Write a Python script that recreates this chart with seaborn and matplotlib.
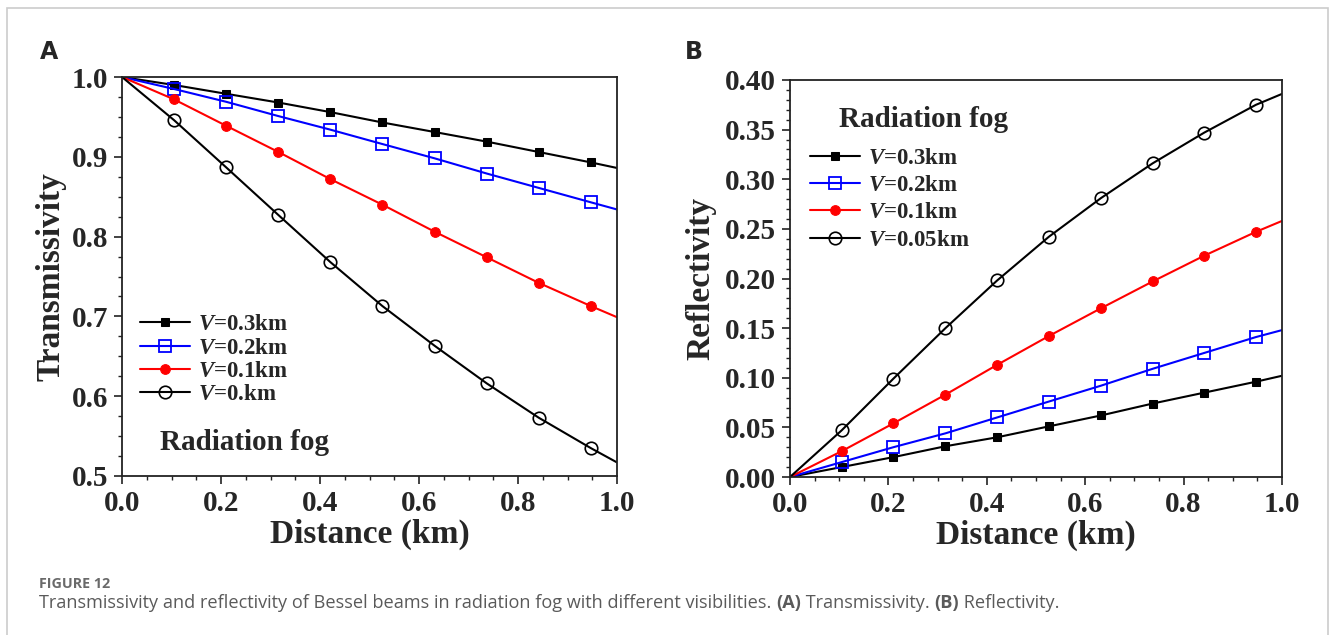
import numpy as np
import pandas as pd
import matplotlib
matplotlib.use("Agg")
import matplotlib.pyplot as plt
import seaborn as sns
from matplotlib.patches import Rectangle
from matplotlib.ticker import MultipleLocator

# ---------------- data ----------------
distance = [0.0, 0.105, 0.21, 0.316, 0.421, 0.526, 0.632, 0.737, 0.842, 0.947, 1.0]

trans_labels = ["V=0.3km", "V=0.2km", "V=0.1km", "V=0.km"]
trans_v03 = [1.0, 0.990, 0.979, 0.968, 0.956, 0.943, 0.931, 0.919, 0.906, 0.893, 0.886]
trans_v02 = [1.0, 0.985, 0.969, 0.951, 0.934, 0.916, 0.898, 0.879, 0.861, 0.843, 0.834]
trans_v01 = [1.0, 0.972, 0.939, 0.906, 0.872, 0.840, 0.806, 0.774, 0.742, 0.713, 0.699]
trans_v00 = [1.0, 0.946, 0.887, 0.827, 0.768, 0.713, 0.663, 0.616, 0.573, 0.535, 0.517]

refl_labels = ["V=0.3km", "V=0.2km", "V=0.1km", "V=0.05km"]
refl_v03 = [0.0, 0.010, 0.020, 0.031, 0.040, 0.051, 0.062, 0.074, 0.085, 0.096, 0.102]
refl_v02 = [0.0, 0.015, 0.030, 0.044, 0.060, 0.076, 0.092, 0.109, 0.125, 0.141, 0.148]
refl_v01 = [0.0, 0.026, 0.054, 0.083, 0.113, 0.142, 0.170, 0.197, 0.223, 0.247, 0.258]
refl_v005 = [0.0, 0.047, 0.099, 0.150, 0.198, 0.242, 0.281, 0.316, 0.347, 0.375, 0.386]

x_ticks = [0.0, 0.2, 0.4, 0.6, 0.8, 1.0]
x_ticklabels = ["0.0", "0.2", "0.4", "0.6", "0.8", "1.0"]
ya_ticks = [0.5, 0.6, 0.7, 0.8, 0.9, 1.0]
ya_ticklabels = ["0.5", "0.6", "0.7", "0.8", "0.9", "1.0"]
yb_ticks = [0.0, 0.05, 0.10, 0.15, 0.20, 0.25, 0.30, 0.35, 0.40]
yb_ticklabels = ["0.00", "0.05", "0.10", "0.15", "0.20", "0.25", "0.30", "0.35", "0.40"]

caption_head = "FIGURE 12"
caption_parts = [
    ("Transmissivity and reflectivity of Bessel beams in radiation fog with different visibilities. ", "normal"),
    ("(A)", "bold"),
    (" Transmissivity. ", "normal"),
    ("(B)", "bold"),
    (" Reflectivity.", "normal"),
]

# ---------------- style ----------------
sns.set_theme(style="ticks")
plt.rcParams["font.family"] = ["Liberation Serif", "DejaVu Serif"]
plt.rcParams["mathtext.fontset"] = "custom"
plt.rcParams["mathtext.rm"] = "Liberation Serif:bold"
plt.rcParams["mathtext.it"] = "Liberation Serif:italic:bold"
plt.rcParams["mathtext.bf"] = "Liberation Serif:bold"

styles = [
    dict(color="black", marker="s", markerfacecolor="black", markeredgecolor="black", markersize=6),
    dict(color="#0000ff", marker="s", markerfacecolor="none", markeredgecolor="#0000ff", markersize=8, markeredgewidth=1.3),
    dict(color="#ff0000", marker="o", markerfacecolor="#ff0000", markeredgecolor="#ff0000", markersize=7),
    dict(color="black", marker="o", markerfacecolor="none", markeredgecolor="black", markersize=9, markeredgewidth=1.2),
]

fig = plt.figure(figsize=(13.3, 6.35), dpi=100)
fig.patch.set_facecolor("white")

# outer border
fig.patches.append(Rectangle((7 / 1330, -0.05), (1328 - 7) / 1330, 1.05 - 8 / 635,
                             transform=fig.transFigure, fill=False,
                             edgecolor="#cccccc", linewidth=1.2))

axA = fig.add_axes([122 / 1330, 1 - 476 / 635, 495 / 1330, 399 / 635])
axB = fig.add_axes([790 / 1330, 1 - 477 / 635, 492 / 1330, 397 / 635])


def legend_label(lbl):
    rest = lbl[1:]
    return r"$\mathit{V}$" + rest


def draw(ax, series, labels):
    for vals, lbl, st in zip(series, labels, styles):
        df = pd.DataFrame({"d": distance, "v": vals})
        sns.lineplot(data=df, x="d", y="v", ax=ax, label=legend_label(lbl),
                     linewidth=1.5, markevery=slice(1, -1), **st)


draw(axA, [trans_v03, trans_v02, trans_v01, trans_v00], trans_labels)
draw(axB, [refl_v03, refl_v02, refl_v01, refl_v005], refl_labels)

for ax in (axA, axB):
    ax.set_xlim(0, 1.0)
    ax.set_xticks(x_ticks)
    ax.set_xticklabels(x_ticklabels)
    ax.xaxis.set_minor_locator(MultipleLocator(0.05))
    for s in ax.spines.values():
        s.set_visible(True)
        s.set_color("#222222")
        s.set_linewidth(1.3)
    ax.tick_params(which="major", direction="out", length=6, width=1.2, color="#222222",
                   labelsize=21, pad=4, top=False, right=False)
    ax.tick_params(which="minor", direction="out", length=3, width=1.0, color="#222222",
                   top=False, right=False)
    for t in ax.get_xticklabels() + ax.get_yticklabels():
        t.set_fontweight("bold")
    ax.set_xlabel("Distance (km)", fontsize=24, fontweight="bold", labelpad=1)
    ax.grid(False)

axA.set_ylim(0.5, 1.0)
axA.set_yticks(ya_ticks)
axA.set_yticklabels(ya_ticklabels, fontweight="bold")
axA.yaxis.set_minor_locator(MultipleLocator(0.025))
axA.set_ylabel("Transmissivity", fontsize=24, fontweight="bold", labelpad=4)

axB.set_ylim(0.0, 0.40)
axB.set_yticks(yb_ticks)
axB.set_yticklabels(yb_ticklabels, fontweight="bold")
axB.yaxis.set_minor_locator(MultipleLocator(0.01))
axB.set_ylabel("Reflectivity", fontsize=24, fontweight="bold", labelpad=6)

legA = axA.legend(loc="upper left", bbox_to_anchor=(0.036, 0.405), frameon=False,
                  prop=dict(family="Liberation Serif", weight="bold", size=16.5),
                  handlelength=2.2, handletextpad=0.35, labelspacing=0.1,
                  borderpad=0, borderaxespad=0)
legB = axB.legend(loc="upper left", bbox_to_anchor=(0.04, 0.83), frameon=False,
                  prop=dict(family="Liberation Serif", weight="bold", size=16.5),
                  handlelength=2.2, handletextpad=0.35, labelspacing=0.28,
                  borderpad=0, borderaxespad=0)

axA.text(0.077, 0.083, "Radiation fog", transform=axA.transAxes, fontsize=21,
         fontweight="bold", ha="left", va="center")
axB.text(0.10, 0.90, "Radiation fog", transform=axB.transAxes, fontsize=21,
         fontweight="bold", ha="left", va="center")

# panel letters
fig.text(40 / 1330, 1 - 52 / 635, "A", fontsize=17, fontweight="bold",
         family="DejaVu Sans", ha="left", va="center")
fig.text(685 / 1330, 1 - 52 / 635, "B", fontsize=17, fontweight="bold",
         family="DejaVu Sans", ha="left", va="center")

# caption
fig.text(39 / 1330, 1 - 584 / 635, caption_head, fontsize=10.3, fontweight="bold",
         family="Open Sans", color="#6a6a6a", ha="left", va="center")

fig.canvas.draw()
renderer = fig.canvas.get_renderer()
xpos = 39 / 1330
ycap = 1 - 603 / 635
for txt, wt in caption_parts:
    t = fig.text(xpos, ycap, txt, fontsize=13.1, fontweight=wt, family="Open Sans",
                 color="#5a5a5a", ha="left", va="center")
    bb = t.get_window_extent(renderer=renderer)
    xpos += bb.width / fig.bbox.width

fig.savefig("out.png", dpi=100, facecolor="white")
